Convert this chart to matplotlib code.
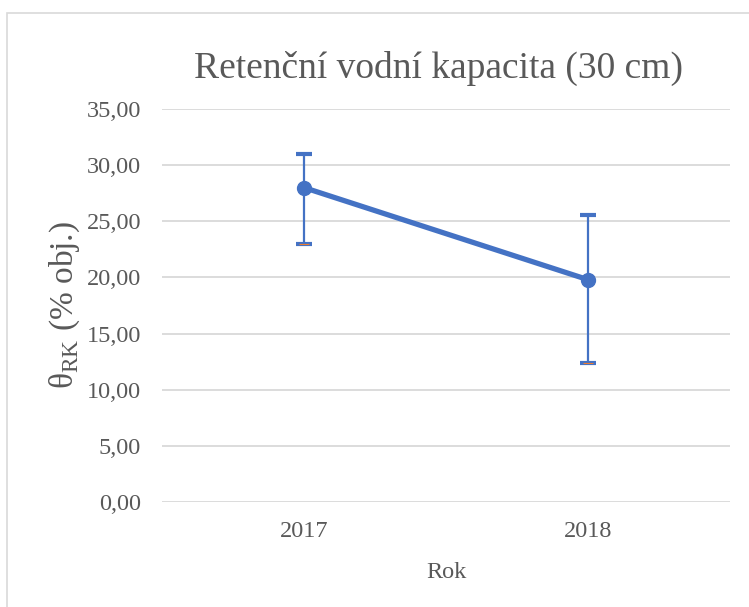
import matplotlib
matplotlib.use('Agg')
import matplotlib.pyplot as plt
from matplotlib.patches import Rectangle
from matplotlib.ticker import FuncFormatter

# data
years = ['2017', '2018']
theta_rk = [28.0, 19.8]
err_upper = [31.0, 25.6]
err_lower = [22.95, 12.4]

BLUE = '#4472C4'
GREY_TXT = '#595959'
GRID = '#D9D9D9'

plt.rcParams['font.family'] = ['Liberation Serif', 'DejaVu Serif']
plt.rcParams['mathtext.fontset'] = 'custom'
plt.rcParams['mathtext.rm'] = 'Liberation Serif'

fig = plt.figure(figsize=(7.49, 6.07), dpi=100)
fig.patches.append(Rectangle((7 / 749, -0.1), 1.2, 1 - 13 / 607 + 0.1,
                             transform=fig.transFigure, fill=False,
                             edgecolor=GRID, linewidth=1.2))

ax = fig.add_axes([162 / 749, 1 - 502 / 607, (730 - 162) / 749, (502 - 109) / 607])

x = list(range(len(years)))
yerr = [[v - lo for v, lo in zip(theta_rk, err_lower)],
        [hi - v for v, hi in zip(theta_rk, err_upper)]]
ax.errorbar(x, theta_rk, yerr=yerr, fmt='none', ecolor=BLUE, elinewidth=1.6,
            capsize=5.5, capthick=3, zorder=3)
# thin orange stroke visible inside the lower caps
ax.plot(x, err_lower, linestyle='none', marker='_', markersize=7,
        markeredgewidth=0.8, color='#ED7D31', zorder=4)
ax.plot(x, theta_rk, color=BLUE, linewidth=3.8, marker='o', markersize=10,
        zorder=5)

ax.set_xlim(-0.5, len(years) - 0.5)
ax.set_ylim(0, 35)
ax.set_yticks(range(0, 36, 5))
ax.yaxis.set_major_formatter(FuncFormatter(lambda v, p: f'{v:.2f}'.replace('.', ',')))
ax.set_xticks(x)
ax.set_xticklabels(years)
ax.grid(axis='y', color=GRID, linewidth=1.3)
ax.set_axisbelow(True)
for s in ax.spines.values():
    s.set_visible(False)
ax.tick_params(axis='both', length=0, labelsize=17.5, labelcolor=GREY_TXT)
ax.tick_params(axis='y', pad=15)
ax.tick_params(axis='x', pad=14)

ax.set_xlabel('Rok', fontsize=17.5, color=GREY_TXT, labelpad=14)
ax.set_ylabel('θ$_\\mathregular{RK}$ (% obj.)', fontsize=24, color=GREY_TXT, labelpad=3)

fig.text(439 / 749, 1 - 68 / 607, 'Retenční vodní kapacita (30 cm)', ha='center',
         va='center', fontsize=27, color=GREY_TXT)

fig.savefig('out.png', dpi=100)
